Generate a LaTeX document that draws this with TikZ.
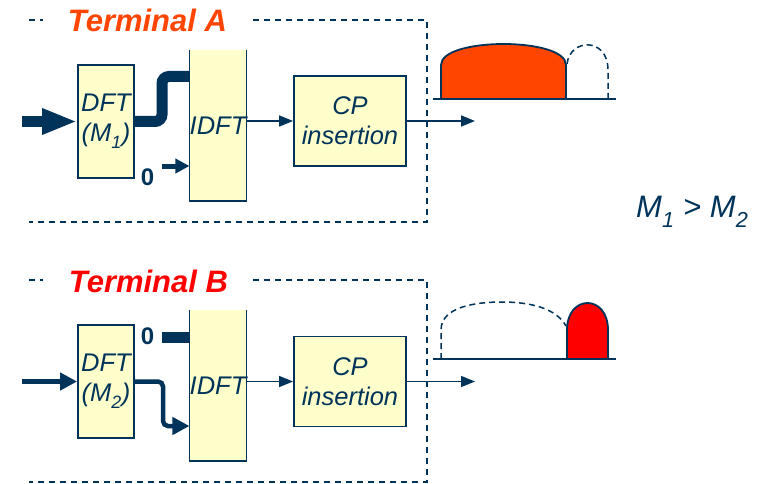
\documentclass[tikz,border=0pt]{standalone}
\usepackage{fontspec}
\setmainfont{Liberation Sans}
\usetikzlibrary{arrows.meta}
\definecolor{navy}{HTML}{00335A}
\definecolor{boxfill}{HTML}{FFFFCC}
\definecolor{orng}{HTML}{FF4500}
\definecolor{redb}{HTML}{FF0000}
\newcommand\lowsub[1]{\raisebox{-0.12em}{\textsubscript{#1}}}
\begin{document}
\begin{tikzpicture}[x=1pt,y=-1pt,
  blockbox/.style={draw=navy, line width=1.8pt, fill=boxfill, inner sep=0pt, text=navy,
    font=\fontsize{25.5}{30}\selectfont\itshape, align=center},
  idftbox/.style={fill=boxfill, inner sep=0pt, text=navy, minimum width=56pt, minimum height=151pt,
    font=\fontsize{25.5}{30}\selectfont\itshape},
  sideline/.style={draw=navy, line width=1.8pt},
  frame/.style={draw=navy, line width=1.5pt, dash pattern=on 6pt off 5pt},
  termlabel/.style={anchor=base, inner sep=0pt, font=\fontsize{31}{31}\selectfont\bfseries\itshape},
  zerolabel/.style={inner sep=0pt, text=navy, font=\fontsize{24}{24}\selectfont\bfseries},
  thickin/.style={draw=navy, line width=11pt, -{Triangle[length=35pt,width=24pt]}},
  medin/.style={draw=navy, line width=4.5pt, -{Triangle[length=17pt,width=17pt]}},
  thinarrow/.style={draw=navy, line width=1.5pt, -{Triangle[length=14pt,width=11pt]}},
  spec/.style={draw=navy, line width=1.8pt},
  specdash/.style={draw=navy, line width=1.5pt, dash pattern=on 6pt off 4pt}
]
\useasboundingbox (0,0) rectangle (765,484);

% ---------------- Terminal A ----------------
\draw[frame] (29,20) -- (43,20);
\draw[frame] (253,20) -- (427,20) -- (427,222) -- (29,222);
\node[termlabel, text=orng] (tA) at (147.5,32) {Terminal A};

\node[blockbox, minimum width=56pt, minimum height=113pt] (dftA) at (106,121.5) {DFT\\(M\lowsub{1})};
\node[idftbox] (idftA) at (218,125.5) {IDFT};
\draw[sideline] (idftA.north west) -- (idftA.south west) -- (idftA.south east) -- (idftA.north east);
\node[blockbox, minimum width=112pt, minimum height=90pt] (cpA) at (350,121) {CP\\insertion};

\coordinate (inA) at (22,121.5);
\draw[thickin] (inA) -- (inA -| dftA.west);
\coordinate (jA) at (162,76.5);
\draw[draw=navy, line width=11pt, rounded corners=7pt] (dftA.east) -| (jA) -- (jA -| idftA.west);
\node[zerolabel] (zA) at (147.5,177) {0};
\coordinate (zAs) at (162,166);
\draw[draw=navy, line width=5pt, -{Triangle[length=14pt,width=14pt]}] (zAs) -- (zAs -| idftA.west);
\draw[thinarrow] (idftA.east |- cpA.west) -- (cpA.west);
\coordinate (outA) at (475,121);
\draw[thinarrow] (cpA.east) -- (outA);

% spectrum A
\coordinate (bA1) at (433,99);
\coordinate (bA2) at (616,99);
\draw[spec, fill=orng] (441,99) -- (441,65) .. controls (441,37) and (566,37) .. (566,65) -- (566,99) -- cycle;
\draw[specdash] (567,64) .. controls (570,38) and (608,37) .. (608,70) -- (608,99);
\draw[spec] (bA1) -- (bA2);

% ---------------- Terminal B ----------------
\draw[frame] (29,280) -- (43,280);
\draw[frame] (253,280) -- (427,280) -- (427,482) -- (29,482);
\node[termlabel, text=redb] (tB) at (148.5,292) {Terminal B};

\node[blockbox, minimum width=56pt, minimum height=113pt] (dftB) at (106,381.5) {DFT\\(M\lowsub{2})};
\node[idftbox] (idftB) at (218,385.5) {IDFT};
\draw[sideline] (idftB.north west) -- (idftB.south west) -- (idftB.south east) -- (idftB.north east);
\node[blockbox, minimum width=112pt, minimum height=90pt] (cpB) at (350,381.5) {CP\\insertion};

\coordinate (inB) at (22,381.5);
\draw[medin] (inB) -- (inB -| dftB.west);
\coordinate (jB) at (163,426);
\draw[medin, rounded corners=5pt] (dftB.east) -| (jB) -- (jB -| idftB.west);
\node[zerolabel] (zB) at (147.5,336) {0};
\coordinate (zBs) at (162,337);
\draw[draw=navy, line width=11pt] (zBs) -- (zBs -| idftB.west);
\draw[thinarrow] (idftB.east |- cpB.west) -- (cpB.west);
\coordinate (outB) at (475,381.5);
\draw[thinarrow] (cpB.east) -- (outB);

% spectrum B
\coordinate (bB1) at (433,359);
\coordinate (bB2) at (616,359);
\draw[specdash] (441,359) -- (441,330) .. controls (441,306) and (478,302) .. (502,302) .. controls (530,302) and (556,308) .. (566,326);
\draw[spec, fill=redb] (567,359) -- (567,330) .. controls (567,294) and (608,294) .. (608,330) -- (608,359) -- cycle;
\draw[spec] (bB1) -- (bB2);

% relation
\node[anchor=base west, inner sep=0pt, text=navy, font=\fontsize{31}{31}\selectfont\itshape] (ineq) at (636,217) {M\lowsub{1} > M\lowsub{2}};
\end{tikzpicture}
\end{document}
